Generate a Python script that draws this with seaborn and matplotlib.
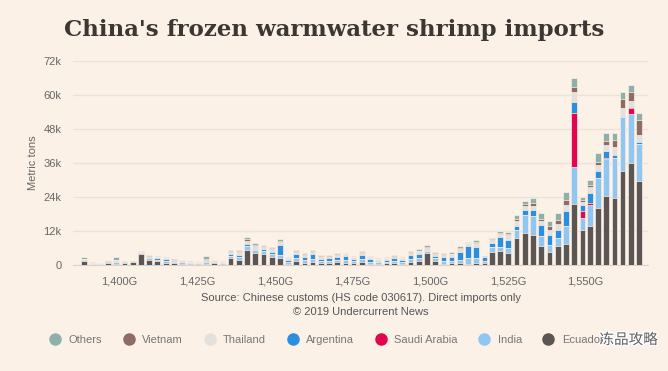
import numpy as np
import pandas as pd
import seaborn as sns
import matplotlib.pyplot as plt
from matplotlib.lines import Line2D
from matplotlib.ticker import FixedLocator, FuncFormatter
import matplotlib.patheffects as pe

# monthly imports, Jan 2014 - Sep 2019, thousand metric tons
months = pd.date_range("2014-01-01", "2019-09-01", freq="MS")

ecuador = [1.3, 0.1, 0.1, 0.6, 0.5, 0.6, 1.0, 4.0, 1.9, 1.5, 0.8, 0.6, 0.5, 0.3, 0.2, 0.5, 0.6, 0.5,
           2.5, 1.9, 5.4, 4.2, 3.9, 2.7, 2.5, 0.5, 1.5, 0.8, 1.2, 0.6, 0.8, 0.9, 0.7, 0.6, 1.2, 0.5,
           0.4, 0.6, 0.7, 0.5, 1.2, 1.5, 4.1, 1.5, 0.5, 0.8, 0.6, 0.5, 0.8, 0.8, 4.7, 5.1, 4.1, 9.4,
           11.4, 10.5, 6.7, 4.5, 6.7, 7.3, 21.4, 12.4, 13.8, 20.0, 24.5, 23.8, 33.3, 36.1, 29.8]
india = [0.2, 0.1, 0.1, 0.2, 0.4, 0.2, 0.1, 0.2, 0.4, 0.4, 0.6, 0.5, 0.4, 0.3, 0.2, 0.5, 0.4, 0.2,
         0.8, 1.0, 1.2, 1.0, 1.0, 1.2, 1.0, 0.6, 0.8, 0.8, 1.0, 0.7, 0.6, 0.8, 0.9, 0.7, 0.8, 0.6,
         0.5, 0.6, 0.7, 0.6, 1.0, 1.0, 0.8, 0.8, 1.0, 0.7, 1.2, 1.8, 1.5, 0.5, 1.8, 1.4, 1.8, 2.9,
         6.2, 6.8, 3.5, 2.6, 2.7, 6.5, 13.3, 4.1, 7.4, 10.6, 12.8, 13.9, 18.8, 17.2, 12.9]
saudi = [0] * 60 + [18.8, 2.6, 0.8, 0, 0.4, 0, 0, 2.0, 0]
argentina = [0.2, 0, 0, 0.1, 0.3, 0.1, 0, 0.1, 0.2, 0.4, 0.6, 0.4, 0.3, 0.2, 0.1, 0.3, 0.2, 0.1,
             0.5, 0.7, 0.8, 0.6, 0.6, 0.8, 3.5, 0.6, 1.5, 1.2, 1.6, 0.9, 1.0, 1.3, 1.5, 0.8, 1.6, 0.9,
             0.6, 0.7, 1.0, 0.7, 1.2, 1.5, 0.4, 1.0, 1.5, 1.4, 2.9, 4.4, 4.2, 1.5, 1.4, 3.5, 2.9, 1.5,
             1.8, 2.1, 3.9, 3.5, 2.9, 5.3, 4.1, 2.1, 3.3, 2.7, 2.4, 1.2, 0.5, 0.4, 0.8]
thailand = [0.3, 0.5, 0.4, 0.3, 0.6, 0.4, 0.1, 0.2, 0.5, 0.4, 0.4, 0.4, 0.4, 0.3, 0.3, 0.6, 0.4, 0.3,
            0.8, 1.0, 1.2, 0.9, 0.8, 0.9, 1.0, 0.6, 0.8, 0.8, 0.8, 0.7, 0.6, 0.7, 0.7, 0.6, 0.8, 0.7,
            0.5, 0.6, 0.6, 0.5, 0.8, 0.8, 0.8, 0.7, 0.6, 0.9, 0.9, 0.9, 1.2, 0.2, 0.9, 0.9, 1.8, 1.8,
            1.4, 1.4, 1.4, 1.8, 2.0, 2.1, 3.3, 1.2, 2.4, 2.0, 2.1, 2.9, 2.7, 2.0, 2.4]
vietnam = [0.1, 0, 0, 0.1, 0.1, 0.1, 0, 0.1, 0.1, 0.1, 0.1, 0.1, 0.1, 0, 0, 0.2, 0.1, 0.1,
           0.3, 0.3, 0.5, 0.4, 0.3, 0.3, 0.3, 0.1, 0.2, 0.2, 0.2, 0.2, 0.2, 0.2, 0.2, 0.2, 0.2, 0.2,
           0.1, 0.1, 0.2, 0.2, 0.3, 0.3, 0.3, 0.3, 0.2, 0.2, 0.4, 0.2, 0.3, 0.1, 0.2, 0.3, 0.3, 0.8,
           0.9, 1.2, 0.8, 1.2, 1.6, 1.8, 2.0, 0.6, 0.6, 1.2, 1.4, 2.4, 3.2, 3.2, 5.3]
others = [0.6, 0.2, 0.1, 0.2, 0.8, 0.1, 0.1, 0.2, 0.3, 0.3, 0.2, 0.2, 0.2, 0.2, 0.1, 1.0, 0.2, 0.1,
          0.5, 0.5, 0.9, 0.6, 0.5, 0.6, 0.7, 0.4, 0.5, 0.5, 0.5, 0.3, 0.3, 0.5, 0.4, 0.3, 0.5, 0.3,
          0.3, 0.3, 0.3, 0.2, 0.5, 0.6, 0.5, 0.4, 0.4, 0.7, 0.6, 0.4, 0.8, 0.1, 0.7, 0.8, 0.7, 1.1,
          0.8, 1.5, 2.2, 2.0, 2.6, 2.9, 3.2, 1.1, 1.7, 2.9, 2.9, 2.3, 2.7, 2.6, 2.3]

# bottom to top
series = ["Ecuador", "India", "Saudi Arabia", "Argentina", "Thailand", "Vietnam", "Others"]
values = [ecuador, india, saudi, argentina, thailand, vietnam, others]
colors = ["#5b5654", "#90c6f2", "#e2064f", "#2b8fe0", "#e3e1de", "#8c6c64", "#8fb0aa"]
legend_order = ["Others", "Vietnam", "Thailand", "Argentina", "Saudi Arabia", "India", "Ecuador"]

bg = "#fbf1e7"
df = pd.DataFrame(dict(zip(series, values)))
df = df * 1000
df["x"] = months.astype("int64") / 1e15  # ms timestamps in G

cum = df[series].cumsum(axis=1)

sns.set_style("white")
plt.rcParams["font.family"] = ["Liberation Sans", "DejaVu Sans"]

fig = plt.figure(figsize=(6.68, 3.71), dpi=100, facecolor=bg)
ax = fig.add_axes([0.109, 0.2857, 0.861, 0.55])
ax.set_facecolor(bg)

for name, col in reversed(list(zip(series, colors))):
    sns.barplot(x=df["x"], y=cum[name], native_scale=True, color=col, width=0.76,
                edgecolor=bg, linewidth=0.5, saturation=1, ax=ax, zorder=3)

ax.set_ylim(0, 72000)
ax.set_xlim(1384.9, 1570.1)
ax.yaxis.set_major_locator(FixedLocator([0, 12000, 24000, 36000, 48000, 60000, 72000]))
ax.yaxis.set_major_formatter(FuncFormatter(lambda v, p: "0" if v == 0 else f"{int(v/1000)}k"))
ax.xaxis.set_major_locator(FixedLocator([1400, 1425, 1450, 1475, 1500, 1525, 1550]))
ax.xaxis.set_major_formatter(FuncFormatter(lambda v, p: f"{int(v):,}G"))
ax.grid(axis="y", color="#ece2d8", linewidth=1, zorder=0)
for s in ["top", "right", "left"]:
    ax.spines[s].set_visible(False)
ax.spines["bottom"].set_color("#d8d2cc")
ax.tick_params(axis="x", colors="#666666", labelsize=8, length=5, width=0.8, color="#d8d2cc", pad=3)
ax.tick_params(axis="y", colors="#666666", labelsize=8, length=0, pad=8)
ax.set_xlabel("")
ax.set_ylabel("Metric tons", color="#666666", fontsize=8, labelpad=4)

fig.text(0.5, 0.92, "China's frozen warmwater shrimp imports", ha="center", va="center",
         fontsize=16.5, fontweight="bold", family="DejaVu Serif", color="#3d3734")
fig.text(0.54, 1 - 298 / 371, "Source: Chinese customs (HS code 030617). Direct imports only",
         ha="center", va="center", fontsize=8, color="#555555")
fig.text(0.54, 1 - 312 / 371, "\u00a9 2019 Undercurrent News",
         ha="center", va="center", fontsize=8, color="#555555")

cmap = dict(zip(series, colors))
handles = [Line2D([], [], marker="o", linestyle="", markersize=8, markerfacecolor=cmap[n],
                  markeredgecolor=cmap[n]) for n in legend_order]
leg = fig.legend(handles, legend_order, loc="center", bbox_to_anchor=(0.485, 1 - 340 / 371),
                 ncol=7, frameon=False, fontsize=8, handletextpad=0.2, columnspacing=1.4,
                 labelcolor="#777777")

fig.text(0.985, 1 - 340 / 371, "冻品攻略", ha="right", va="center", fontsize=10.5,
         family=["Noto Sans CJK SC", "DejaVu Sans"], color="#5e5e5e",
         path_effects=[pe.withStroke(linewidth=2, foreground="white")])

fig.savefig("out.png", dpi=100, facecolor=bg)
